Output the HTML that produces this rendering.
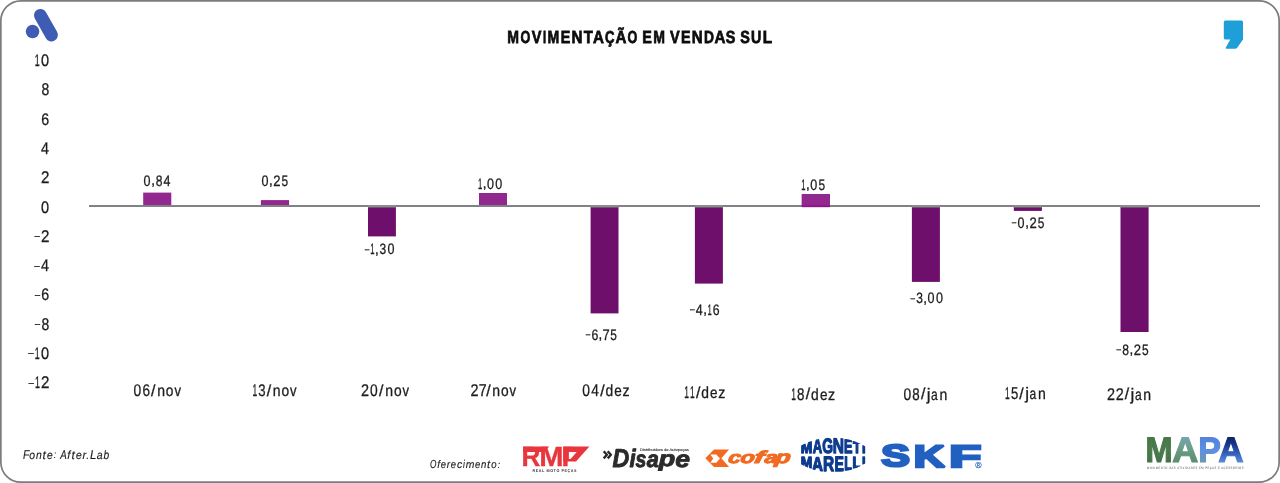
<!DOCTYPE html>
<html lang="pt-BR">
<head>
<meta charset="utf-8">
<title>Movimentação em Vendas Sul</title>
<style>
html,body{margin:0;padding:0;background:#fff;}
body{width:1280px;height:483px;overflow:hidden;position:relative;font-family:"Liberation Sans", sans-serif;}
svg{display:block;position:absolute;left:0;top:0;}
svg text{font-family:"Liberation Sans", sans-serif;white-space:pre;text-rendering:geometricPrecision;}
</style>
</head>
<body>
<svg width="1280" height="483" viewBox="0 0 1280 483">
<rect x="0.85" y="0.85" width="1278.3" height="481.3" rx="20" ry="20" fill="#fff" stroke="#7b7c80" stroke-width="1.7"/>
<g fill="#3f5cb5" stroke="none"><circle cx="32.55" cy="31.4" r="6.75"/><line x1="40.4" y1="15.3" x2="51.5" y2="35.0" stroke="#3f5cb5" stroke-width="12.8" stroke-linecap="round"/></g>
<path fill="#1e9fd8" d="M1225.5,20.5 H1241.5 Q1243,20.5 1243,22 V39.5 L1237,48 Q1236.3,48.8 1235.3,48.8 H1226.5 Q1225,48.8 1225.8,47.5 L1230.3,39.6 H1225.5 Q1223.8,39.6 1223.8,38 V22 Q1223.8,20.5 1225.5,20.5 Z"/>
<text font-weight="bold" fill="#0d0d0d" stroke="#0d0d0d" stroke-width="0.75"><tspan x="507.36" y="43.48" font-size="17.55" textLength="11.70" lengthAdjust="spacingAndGlyphs">M</tspan><tspan x="520.53" y="43.49" font-size="17.52" textLength="9.83" lengthAdjust="spacingAndGlyphs">O</tspan><tspan x="531.67" y="43.48" font-size="17.55" textLength="9.67" lengthAdjust="spacingAndGlyphs">V</tspan><tspan x="542.91" y="43.48" font-size="17.55" textLength="3.16" lengthAdjust="spacingAndGlyphs">I</tspan><tspan x="547.58" y="43.48" font-size="17.55" textLength="11.70" lengthAdjust="spacingAndGlyphs">M</tspan><tspan x="560.67" y="43.48" font-size="17.55" textLength="9.59" lengthAdjust="spacingAndGlyphs">E</tspan><tspan x="571.47" y="43.48" font-size="17.55" textLength="10.97" lengthAdjust="spacingAndGlyphs">N</tspan><tspan x="583.85" y="43.48" font-size="17.55" textLength="9.05" lengthAdjust="spacingAndGlyphs">T</tspan><tspan x="593.07" y="43.48" font-size="17.55" textLength="10.90" lengthAdjust="spacingAndGlyphs">A</tspan><tspan x="604.88" y="43.30" font-size="17.25" textLength="9.50" lengthAdjust="spacingAndGlyphs">Ç</tspan><tspan x="615.57" y="43.48" font-size="17.53" textLength="10.90" lengthAdjust="spacingAndGlyphs">Ã</tspan><tspan x="627.38" y="43.49" font-size="17.52" textLength="9.83" lengthAdjust="spacingAndGlyphs">O</tspan> <tspan x="642.33" y="43.48" font-size="17.55" textLength="9.59" lengthAdjust="spacingAndGlyphs">E</tspan><tspan x="653.19" y="43.48" font-size="17.55" textLength="11.70" lengthAdjust="spacingAndGlyphs">M</tspan> <tspan x="670.01" y="43.48" font-size="17.55" textLength="9.67" lengthAdjust="spacingAndGlyphs">V</tspan><tspan x="680.94" y="43.48" font-size="17.55" textLength="9.59" lengthAdjust="spacingAndGlyphs">E</tspan><tspan x="691.75" y="43.48" font-size="17.55" textLength="10.97" lengthAdjust="spacingAndGlyphs">N</tspan><tspan x="703.90" y="43.48" font-size="17.55" textLength="9.96" lengthAdjust="spacingAndGlyphs">D</tspan><tspan x="714.41" y="43.48" font-size="17.55" textLength="10.90" lengthAdjust="spacingAndGlyphs">A</tspan><tspan x="725.69" y="43.45" font-size="17.47" textLength="9.61" lengthAdjust="spacingAndGlyphs">S</tspan> <tspan x="740.18" y="43.45" font-size="17.47" textLength="9.61" lengthAdjust="spacingAndGlyphs">S</tspan><tspan x="751.02" y="43.45" font-size="17.51" textLength="10.31" lengthAdjust="spacingAndGlyphs">U</tspan><tspan x="762.63" y="43.48" font-size="17.55" textLength="9.42" lengthAdjust="spacingAndGlyphs">L</tspan></text>
<text fill="#1d1d1d" stroke="#1d1d1d" stroke-width="0.3"><tspan x="34.79" y="66.10" font-size="16.86" textLength="4.93" lengthAdjust="spacingAndGlyphs">1</tspan><tspan x="41.12" y="66.11" font-size="16.84" textLength="8.07" lengthAdjust="spacingAndGlyphs">0</tspan></text>
<text fill="#1d1d1d" stroke="#1d1d1d" stroke-width="0.3"><tspan x="41.45" y="95.36" font-size="16.82" textLength="7.78" lengthAdjust="spacingAndGlyphs">8</tspan></text>
<text fill="#1d1d1d" stroke="#1d1d1d" stroke-width="0.3"><tspan x="41.36" y="124.64" font-size="16.74" textLength="7.89" lengthAdjust="spacingAndGlyphs">6</tspan></text>
<text fill="#1d1d1d" stroke="#1d1d1d" stroke-width="0.3"><tspan x="41.05" y="153.97" font-size="16.86" textLength="7.99" lengthAdjust="spacingAndGlyphs">4</tspan></text>
<text fill="#1d1d1d" stroke="#1d1d1d" stroke-width="0.3"><tspan x="40.97" y="183.26" font-size="16.81" textLength="8.41" lengthAdjust="spacingAndGlyphs">2</tspan></text>
<text fill="#1d1d1d" stroke="#1d1d1d" stroke-width="0.3"><tspan x="41.12" y="212.56" font-size="16.84" textLength="8.07" lengthAdjust="spacingAndGlyphs">0</tspan></text>
<text fill="#1d1d1d" stroke="#1d1d1d" stroke-width="0.3"><tspan x="34.03" y="239.27" font-size="9.65" textLength="6.50" lengthAdjust="spacingAndGlyphs">-</tspan><tspan x="40.97" y="241.84" font-size="16.81" textLength="8.41" lengthAdjust="spacingAndGlyphs">2</tspan></text>
<text fill="#1d1d1d" stroke="#1d1d1d" stroke-width="0.3"><tspan x="33.82" y="268.56" font-size="9.65" textLength="6.50" lengthAdjust="spacingAndGlyphs">-</tspan><tspan x="41.05" y="271.13" font-size="16.86" textLength="7.99" lengthAdjust="spacingAndGlyphs">4</tspan></text>
<text fill="#1d1d1d" stroke="#1d1d1d" stroke-width="0.3"><tspan x="34.25" y="297.85" font-size="9.65" textLength="6.50" lengthAdjust="spacingAndGlyphs">-</tspan><tspan x="41.36" y="300.38" font-size="16.74" textLength="7.89" lengthAdjust="spacingAndGlyphs">6</tspan></text>
<text fill="#1d1d1d" stroke="#1d1d1d" stroke-width="0.3"><tspan x="34.33" y="327.14" font-size="9.65" textLength="6.50" lengthAdjust="spacingAndGlyphs">-</tspan><tspan x="41.45" y="329.68" font-size="16.82" textLength="7.78" lengthAdjust="spacingAndGlyphs">8</tspan></text>
<text fill="#1d1d1d" stroke="#1d1d1d" stroke-width="0.3"><tspan x="27.80" y="356.43" font-size="9.65" textLength="6.50" lengthAdjust="spacingAndGlyphs">-</tspan><tspan x="34.79" y="359.00" font-size="16.86" textLength="4.93" lengthAdjust="spacingAndGlyphs">1</tspan><tspan x="41.12" y="359.01" font-size="16.84" textLength="8.07" lengthAdjust="spacingAndGlyphs">0</tspan></text>
<text fill="#1d1d1d" stroke="#1d1d1d" stroke-width="0.3"><tspan x="28.08" y="385.72" font-size="9.65" textLength="6.50" lengthAdjust="spacingAndGlyphs">-</tspan><tspan x="35.06" y="388.29" font-size="16.86" textLength="4.93" lengthAdjust="spacingAndGlyphs">1</tspan><tspan x="40.97" y="388.29" font-size="16.81" textLength="8.41" lengthAdjust="spacingAndGlyphs">2</tspan></text>
<rect x="143.2" y="192.6" width="28.10" height="13.40" fill="#92278f"/>
<rect x="260.9" y="200.1" width="28.20" height="5.90" fill="#92278f"/>
<rect x="368" y="206" width="27.90" height="30.40" fill="#6d0f6b"/>
<rect x="479" y="193" width="28.00" height="13.00" fill="#92278f"/>
<rect x="590.6" y="206" width="27.90" height="107.40" fill="#6d0f6b"/>
<rect x="694.9" y="206" width="28.00" height="77.60" fill="#6d0f6b"/>
<rect x="801.8" y="194.1" width="28.20" height="12.90" fill="#92278f"/>
<rect x="911.9" y="206" width="28.00" height="75.90" fill="#6d0f6b"/>
<rect x="1013.8" y="207" width="28.10" height="3.90" fill="#6d0f6b"/>
<rect x="1120.5" y="206" width="28.10" height="126.00" fill="#6d0f6b"/>
<line x1="89" y1="206" x2="1260" y2="206" stroke="#808285" stroke-width="2"/>
<rect x="801.8" y="194.1" width="28.2" height="13" fill="#92278f"/><rect x="801.8" y="205.3" width="28.2" height="1.8" fill="#8a1786"/>
<rect x="368" y="205" width="27.90" height="2.5" fill="#888e8c"/>
<rect x="590.6" y="205" width="27.90" height="2.5" fill="#888e8c"/>
<rect x="694.9" y="205" width="28.00" height="2.5" fill="#888e8c"/>
<rect x="911.9" y="205" width="28.00" height="2.5" fill="#888e8c"/>
<rect x="1013.8" y="205" width="28.10" height="2.5" fill="#888e8c"/>
<rect x="1120.5" y="205" width="28.10" height="2.5" fill="#888e8c"/>
<text fill="#1d1d1d" stroke="#1d1d1d" stroke-width="0.3"><tspan x="143.59" y="186.06" font-size="15.21" textLength="6.99" lengthAdjust="spacingAndGlyphs">0</tspan><tspan x="151.19" y="185.47" font-size="14.06" textLength="3.74" lengthAdjust="spacingAndGlyphs">,</tspan><tspan x="155.64" y="186.02" font-size="15.19" textLength="6.75" lengthAdjust="spacingAndGlyphs">8</tspan><tspan x="163.45" y="186.05" font-size="15.22" textLength="6.93" lengthAdjust="spacingAndGlyphs">4</tspan></text>
<text fill="#1d1d1d" stroke="#1d1d1d" stroke-width="0.3"><tspan x="261.47" y="186.06" font-size="15.21" textLength="6.99" lengthAdjust="spacingAndGlyphs">0</tspan><tspan x="269.07" y="185.47" font-size="14.06" textLength="3.74" lengthAdjust="spacingAndGlyphs">,</tspan><tspan x="273.37" y="186.05" font-size="15.18" textLength="7.29" lengthAdjust="spacingAndGlyphs">2</tspan><tspan x="281.61" y="186.01" font-size="15.17" textLength="6.63" lengthAdjust="spacingAndGlyphs">5</tspan></text>
<text fill="#1d1d1d" stroke="#1d1d1d" stroke-width="0.3"><tspan x="364.32" y="251.79" font-size="8.38" textLength="5.56" lengthAdjust="spacingAndGlyphs">-</tspan><tspan x="370.36" y="254.20" font-size="15.22" textLength="4.27" lengthAdjust="spacingAndGlyphs">1</tspan><tspan x="375.12" y="253.62" font-size="14.06" textLength="3.74" lengthAdjust="spacingAndGlyphs">,</tspan><tspan x="379.51" y="254.18" font-size="14.97" textLength="6.66" lengthAdjust="spacingAndGlyphs">3</tspan><tspan x="387.41" y="254.21" font-size="15.21" textLength="6.99" lengthAdjust="spacingAndGlyphs">0</tspan></text>
<text fill="#1d1d1d" stroke="#1d1d1d" stroke-width="0.3"><tspan x="478.09" y="189.05" font-size="15.22" textLength="4.27" lengthAdjust="spacingAndGlyphs">1</tspan><tspan x="482.84" y="188.47" font-size="14.06" textLength="3.74" lengthAdjust="spacingAndGlyphs">,</tspan><tspan x="487.01" y="189.06" font-size="15.21" textLength="6.99" lengthAdjust="spacingAndGlyphs">0</tspan><tspan x="495.37" y="189.06" font-size="15.21" textLength="6.99" lengthAdjust="spacingAndGlyphs">0</tspan></text>
<text fill="#1d1d1d" stroke="#1d1d1d" stroke-width="0.3"><tspan x="585.33" y="337.29" font-size="8.38" textLength="5.56" lengthAdjust="spacingAndGlyphs">-</tspan><tspan x="591.49" y="339.66" font-size="15.12" textLength="6.84" lengthAdjust="spacingAndGlyphs">6</tspan><tspan x="598.57" y="339.12" font-size="14.06" textLength="3.74" lengthAdjust="spacingAndGlyphs">,</tspan><tspan x="602.55" y="339.70" font-size="15.22" textLength="7.20" lengthAdjust="spacingAndGlyphs">7</tspan><tspan x="610.17" y="339.66" font-size="15.17" textLength="6.63" lengthAdjust="spacingAndGlyphs">5</tspan></text>
<text fill="#1d1d1d" stroke="#1d1d1d" stroke-width="0.3"><tspan x="689.42" y="312.29" font-size="8.38" textLength="5.56" lengthAdjust="spacingAndGlyphs">-</tspan><tspan x="695.68" y="314.70" font-size="15.22" textLength="6.93" lengthAdjust="spacingAndGlyphs">4</tspan><tspan x="703.19" y="314.12" font-size="14.06" textLength="3.74" lengthAdjust="spacingAndGlyphs">,</tspan><tspan x="707.53" y="314.70" font-size="15.22" textLength="4.27" lengthAdjust="spacingAndGlyphs">1</tspan><tspan x="712.82" y="314.66" font-size="15.12" textLength="6.84" lengthAdjust="spacingAndGlyphs">6</tspan></text>
<text fill="#1d1d1d" stroke="#1d1d1d" stroke-width="0.3"><tspan x="801.31" y="189.95" font-size="15.22" textLength="4.27" lengthAdjust="spacingAndGlyphs">1</tspan><tspan x="806.07" y="189.37" font-size="14.06" textLength="3.74" lengthAdjust="spacingAndGlyphs">,</tspan><tspan x="810.23" y="189.96" font-size="15.21" textLength="6.99" lengthAdjust="spacingAndGlyphs">0</tspan><tspan x="818.53" y="189.91" font-size="15.17" textLength="6.63" lengthAdjust="spacingAndGlyphs">5</tspan></text>
<text fill="#1d1d1d" stroke="#1d1d1d" stroke-width="0.3"><tspan x="910.13" y="301.04" font-size="8.38" textLength="5.56" lengthAdjust="spacingAndGlyphs">-</tspan><tspan x="916.23" y="303.43" font-size="14.97" textLength="6.66" lengthAdjust="spacingAndGlyphs">3</tspan><tspan x="923.37" y="302.87" font-size="14.06" textLength="3.74" lengthAdjust="spacingAndGlyphs">,</tspan><tspan x="927.54" y="303.46" font-size="15.21" textLength="6.99" lengthAdjust="spacingAndGlyphs">0</tspan><tspan x="935.90" y="303.46" font-size="15.21" textLength="6.99" lengthAdjust="spacingAndGlyphs">0</tspan></text>
<text fill="#1d1d1d" stroke="#1d1d1d" stroke-width="0.3"><tspan x="1011.15" y="225.24" font-size="8.38" textLength="5.56" lengthAdjust="spacingAndGlyphs">-</tspan><tspan x="1017.53" y="227.66" font-size="15.21" textLength="6.99" lengthAdjust="spacingAndGlyphs">0</tspan><tspan x="1025.13" y="227.07" font-size="14.06" textLength="3.74" lengthAdjust="spacingAndGlyphs">,</tspan><tspan x="1029.43" y="227.65" font-size="15.18" textLength="7.29" lengthAdjust="spacingAndGlyphs">2</tspan><tspan x="1037.66" y="227.61" font-size="15.17" textLength="6.63" lengthAdjust="spacingAndGlyphs">5</tspan></text>
<text fill="#1d1d1d" stroke="#1d1d1d" stroke-width="0.3"><tspan x="1116.07" y="352.29" font-size="8.38" textLength="5.56" lengthAdjust="spacingAndGlyphs">-</tspan><tspan x="1122.23" y="354.67" font-size="15.19" textLength="6.75" lengthAdjust="spacingAndGlyphs">8</tspan><tspan x="1129.40" y="354.12" font-size="14.06" textLength="3.74" lengthAdjust="spacingAndGlyphs">,</tspan><tspan x="1133.70" y="354.70" font-size="15.18" textLength="7.29" lengthAdjust="spacingAndGlyphs">2</tspan><tspan x="1141.93" y="354.66" font-size="15.17" textLength="6.63" lengthAdjust="spacingAndGlyphs">5</tspan></text>
<text fill="#1d1d1d" stroke="#1d1d1d" stroke-width="0.3"><tspan x="133.61" y="395.76" font-size="17.01" textLength="7.69" lengthAdjust="spacingAndGlyphs">0</tspan><tspan x="142.52" y="395.70" font-size="16.92" textLength="7.52" lengthAdjust="spacingAndGlyphs">6</tspan><tspan x="151.05" y="395.59" font-size="15.96" textLength="4.43" lengthAdjust="spacingAndGlyphs">/</tspan><tspan x="157.16" y="395.75" font-size="15.81" textLength="7.82" lengthAdjust="spacingAndGlyphs">n</tspan><tspan x="165.85" y="395.73" font-size="15.81" textLength="7.67" lengthAdjust="spacingAndGlyphs">o</tspan><tspan x="174.38" y="395.75" font-size="15.88" textLength="6.51" lengthAdjust="spacingAndGlyphs">v</tspan></text>
<text fill="#1d1d1d" stroke="#1d1d1d" stroke-width="0.3"><tspan x="252.45" y="395.75" font-size="17.04" textLength="4.70" lengthAdjust="spacingAndGlyphs">1</tspan><tspan x="258.17" y="395.72" font-size="16.75" textLength="7.32" lengthAdjust="spacingAndGlyphs">3</tspan><tspan x="266.76" y="395.59" font-size="15.96" textLength="4.43" lengthAdjust="spacingAndGlyphs">/</tspan><tspan x="272.87" y="395.75" font-size="15.81" textLength="7.82" lengthAdjust="spacingAndGlyphs">n</tspan><tspan x="281.56" y="395.73" font-size="15.81" textLength="7.67" lengthAdjust="spacingAndGlyphs">o</tspan><tspan x="290.09" y="395.75" font-size="15.88" textLength="6.51" lengthAdjust="spacingAndGlyphs">v</tspan></text>
<text fill="#1d1d1d" stroke="#1d1d1d" stroke-width="0.3"><tspan x="360.90" y="395.75" font-size="16.98" textLength="8.02" lengthAdjust="spacingAndGlyphs">2</tspan><tspan x="369.99" y="395.76" font-size="17.01" textLength="7.69" lengthAdjust="spacingAndGlyphs">0</tspan><tspan x="379.08" y="395.59" font-size="15.96" textLength="4.43" lengthAdjust="spacingAndGlyphs">/</tspan><tspan x="385.19" y="395.75" font-size="15.81" textLength="7.82" lengthAdjust="spacingAndGlyphs">n</tspan><tspan x="393.88" y="395.73" font-size="15.81" textLength="7.67" lengthAdjust="spacingAndGlyphs">o</tspan><tspan x="402.41" y="395.75" font-size="15.88" textLength="6.51" lengthAdjust="spacingAndGlyphs">v</tspan></text>
<text fill="#1d1d1d" stroke="#1d1d1d" stroke-width="0.3"><tspan x="470.42" y="395.75" font-size="16.98" textLength="8.02" lengthAdjust="spacingAndGlyphs">2</tspan><tspan x="478.76" y="395.75" font-size="17.04" textLength="7.92" lengthAdjust="spacingAndGlyphs">7</tspan><tspan x="486.16" y="395.59" font-size="15.96" textLength="4.43" lengthAdjust="spacingAndGlyphs">/</tspan><tspan x="492.27" y="395.75" font-size="15.81" textLength="7.82" lengthAdjust="spacingAndGlyphs">n</tspan><tspan x="500.96" y="395.73" font-size="15.81" textLength="7.67" lengthAdjust="spacingAndGlyphs">o</tspan><tspan x="509.49" y="395.75" font-size="15.88" textLength="6.51" lengthAdjust="spacingAndGlyphs">v</tspan></text>
<text fill="#1d1d1d" stroke="#1d1d1d" stroke-width="0.3"><tspan x="582.13" y="395.76" font-size="17.01" textLength="7.69" lengthAdjust="spacingAndGlyphs">0</tspan><tspan x="591.15" y="395.75" font-size="17.04" textLength="7.62" lengthAdjust="spacingAndGlyphs">4</tspan><tspan x="600.16" y="395.59" font-size="15.96" textLength="4.43" lengthAdjust="spacingAndGlyphs">/</tspan><tspan x="605.49" y="395.73" font-size="16.15" textLength="7.70" lengthAdjust="spacingAndGlyphs">d</tspan><tspan x="614.34" y="395.75" font-size="15.85" textLength="7.51" lengthAdjust="spacingAndGlyphs">e</tspan><tspan x="622.48" y="395.75" font-size="15.88" textLength="7.09" lengthAdjust="spacingAndGlyphs">z</tspan></text>
<text fill="#1d1d1d" stroke="#1d1d1d" stroke-width="0.3"><tspan x="684.20" y="398.35" font-size="17.04" textLength="4.70" lengthAdjust="spacingAndGlyphs">1</tspan><tspan x="689.92" y="398.35" font-size="17.04" textLength="4.70" lengthAdjust="spacingAndGlyphs">1</tspan><tspan x="695.89" y="398.19" font-size="15.96" textLength="4.43" lengthAdjust="spacingAndGlyphs">/</tspan><tspan x="701.23" y="398.33" font-size="16.15" textLength="7.70" lengthAdjust="spacingAndGlyphs">d</tspan><tspan x="710.08" y="398.35" font-size="15.85" textLength="7.51" lengthAdjust="spacingAndGlyphs">e</tspan><tspan x="718.22" y="398.35" font-size="15.88" textLength="7.09" lengthAdjust="spacingAndGlyphs">z</tspan></text>
<text fill="#1d1d1d" stroke="#1d1d1d" stroke-width="0.3"><tspan x="791.29" y="399.65" font-size="17.04" textLength="4.70" lengthAdjust="spacingAndGlyphs">1</tspan><tspan x="797.08" y="399.62" font-size="16.99" textLength="7.42" lengthAdjust="spacingAndGlyphs">8</tspan><tspan x="805.70" y="399.49" font-size="15.96" textLength="4.43" lengthAdjust="spacingAndGlyphs">/</tspan><tspan x="811.04" y="399.63" font-size="16.15" textLength="7.70" lengthAdjust="spacingAndGlyphs">d</tspan><tspan x="819.89" y="399.65" font-size="15.85" textLength="7.51" lengthAdjust="spacingAndGlyphs">e</tspan><tspan x="828.03" y="399.65" font-size="15.88" textLength="7.09" lengthAdjust="spacingAndGlyphs">z</tspan></text>
<text fill="#1d1d1d" stroke="#1d1d1d" stroke-width="0.3"><tspan x="903.38" y="399.66" font-size="17.01" textLength="7.69" lengthAdjust="spacingAndGlyphs">0</tspan><tspan x="912.29" y="399.62" font-size="16.99" textLength="7.42" lengthAdjust="spacingAndGlyphs">8</tspan><tspan x="920.92" y="399.49" font-size="15.96" textLength="4.43" lengthAdjust="spacingAndGlyphs">/</tspan><tspan x="926.73" y="399.78" font-size="16.59" textLength="3.81" lengthAdjust="spacingAndGlyphs">j</tspan><tspan x="931.04" y="399.63" font-size="15.81" textLength="6.72" lengthAdjust="spacingAndGlyphs">a</tspan><tspan x="939.46" y="399.65" font-size="15.81" textLength="7.82" lengthAdjust="spacingAndGlyphs">n</tspan></text>
<text fill="#1d1d1d" stroke="#1d1d1d" stroke-width="0.3"><tspan x="1005.07" y="399.15" font-size="17.04" textLength="4.70" lengthAdjust="spacingAndGlyphs">1</tspan><tspan x="1011.03" y="399.10" font-size="16.97" textLength="7.29" lengthAdjust="spacingAndGlyphs">5</tspan><tspan x="1019.37" y="398.99" font-size="15.96" textLength="4.43" lengthAdjust="spacingAndGlyphs">/</tspan><tspan x="1025.19" y="399.28" font-size="16.59" textLength="3.81" lengthAdjust="spacingAndGlyphs">j</tspan><tspan x="1029.49" y="399.13" font-size="15.81" textLength="6.72" lengthAdjust="spacingAndGlyphs">a</tspan><tspan x="1037.92" y="399.15" font-size="15.81" textLength="7.82" lengthAdjust="spacingAndGlyphs">n</tspan></text>
<text fill="#1d1d1d" stroke="#1d1d1d" stroke-width="0.3"><tspan x="1107.10" y="399.65" font-size="16.98" textLength="8.02" lengthAdjust="spacingAndGlyphs">2</tspan><tspan x="1115.78" y="399.65" font-size="16.98" textLength="8.02" lengthAdjust="spacingAndGlyphs">2</tspan><tspan x="1124.81" y="399.49" font-size="15.96" textLength="4.43" lengthAdjust="spacingAndGlyphs">/</tspan><tspan x="1130.63" y="399.78" font-size="16.59" textLength="3.81" lengthAdjust="spacingAndGlyphs">j</tspan><tspan x="1134.94" y="399.63" font-size="15.81" textLength="6.72" lengthAdjust="spacingAndGlyphs">a</tspan><tspan x="1143.36" y="399.65" font-size="15.81" textLength="7.82" lengthAdjust="spacingAndGlyphs">n</tspan></text>
<text font-style="italic" fill="#1d1d1d" stroke="#1d1d1d" stroke-width="0.15"><tspan x="22.99" y="458.62" font-size="12.61" textLength="6.30" lengthAdjust="spacingAndGlyphs">F</tspan><tspan x="29.36" y="458.61" font-size="11.75" textLength="5.78" lengthAdjust="spacingAndGlyphs">o</tspan><tspan x="36.08" y="458.62" font-size="11.75" textLength="5.76" lengthAdjust="spacingAndGlyphs">n</tspan><tspan x="42.47" y="458.52" font-size="12.01" textLength="3.35" lengthAdjust="spacingAndGlyphs">t</tspan><tspan x="46.89" y="458.62" font-size="11.76" textLength="5.73" lengthAdjust="spacingAndGlyphs">e</tspan><tspan x="53.77" y="458.46" font-size="10.43" textLength="2.49" lengthAdjust="spacingAndGlyphs">:</tspan> <tspan x="60.15" y="458.62" font-size="12.61" textLength="6.49" lengthAdjust="spacingAndGlyphs">A</tspan><tspan x="67.26" y="458.62" font-size="11.97" textLength="3.07" lengthAdjust="spacingAndGlyphs">f</tspan><tspan x="71.49" y="458.52" font-size="12.01" textLength="3.35" lengthAdjust="spacingAndGlyphs">t</tspan><tspan x="75.91" y="458.62" font-size="11.76" textLength="5.73" lengthAdjust="spacingAndGlyphs">e</tspan><tspan x="82.47" y="458.62" font-size="11.70" textLength="3.69" lengthAdjust="spacingAndGlyphs">r</tspan><tspan x="86.34" y="458.60" font-size="11.80" textLength="2.99" lengthAdjust="spacingAndGlyphs">.</tspan><tspan x="89.89" y="458.62" font-size="12.61" textLength="6.46" lengthAdjust="spacingAndGlyphs">L</tspan><tspan x="96.86" y="458.61" font-size="11.74" textLength="5.86" lengthAdjust="spacingAndGlyphs">a</tspan><tspan x="103.56" y="458.61" font-size="11.95" textLength="5.69" lengthAdjust="spacingAndGlyphs">b</tspan></text>
<text font-style="italic" fill="#1d1d1d" stroke="#1d1d1d" stroke-width="0.15"><tspan x="430.11" y="468.06" font-size="11.63" textLength="6.40" lengthAdjust="spacingAndGlyphs">O</tspan><tspan x="437.20" y="468.07" font-size="11.10" textLength="2.84" lengthAdjust="spacingAndGlyphs">f</tspan><tspan x="440.72" y="468.07" font-size="10.90" textLength="5.31" lengthAdjust="spacingAndGlyphs">e</tspan><tspan x="446.81" y="468.07" font-size="10.84" textLength="3.41" lengthAdjust="spacingAndGlyphs">r</tspan><tspan x="450.85" y="468.07" font-size="10.90" textLength="5.31" lengthAdjust="spacingAndGlyphs">e</tspan><tspan x="456.88" y="468.06" font-size="10.88" textLength="5.17" lengthAdjust="spacingAndGlyphs">c</tspan><tspan x="462.98" y="468.06" font-size="11.25" textLength="1.84" lengthAdjust="spacingAndGlyphs">i</tspan><tspan x="465.74" y="468.07" font-size="10.89" textLength="8.67" lengthAdjust="spacingAndGlyphs">m</tspan><tspan x="475.01" y="468.07" font-size="10.90" textLength="5.31" lengthAdjust="spacingAndGlyphs">e</tspan><tspan x="481.11" y="468.07" font-size="10.89" textLength="5.33" lengthAdjust="spacingAndGlyphs">n</tspan><tspan x="487.04" y="467.98" font-size="11.14" textLength="3.10" lengthAdjust="spacingAndGlyphs">t</tspan><tspan x="491.14" y="468.06" font-size="10.89" textLength="5.36" lengthAdjust="spacingAndGlyphs">o</tspan><tspan x="497.67" y="467.92" font-size="9.67" textLength="2.30" lengthAdjust="spacingAndGlyphs">:</tspan></text>
<g id="rmp">
<text font-weight="bold" fill="#e9353c" stroke="#e9353c" stroke-width="0.3" stroke-linejoin="miter"><tspan x="521.49" y="465.55" font-size="27.62" textLength="18.90" lengthAdjust="spacingAndGlyphs">R</tspan><tspan x="539.21" y="465.55" font-size="27.62" textLength="24.28" lengthAdjust="spacingAndGlyphs">M</tspan><tspan x="561.57" y="465.55" font-size="27.62" textLength="18.73" lengthAdjust="spacingAndGlyphs">P</tspan></text>
<path fill="#e9353c" d="M523.1,446.4 H549.2 L544.2,452 H523.1 Z M563.3,446.4 H589.4 L576,461.4 H563.3 Z"/>
<path fill="#fff" d="M568.9,452 H576.7 L570.6,458.9 H568.9 Z"/>
<text transform="translate(532.57 471.90) scale(0.9326 1.0)" font-size="4.0" font-weight="bold" letter-spacing="0.6" fill="#3a3a3a">REAL MOTO PEÇAS</text>
</g>
<g id="disape">
<path fill="none" stroke="#2b2b2b" stroke-width="2.4" stroke-linejoin="round" d="M603.7,451.2 L606.9,454.8 L603.7,458.4 M607.7,451.2 L610.9,454.8 L607.7,458.4"/>
<text font-weight="bold" font-style="italic" fill="#2b2b2b" stroke="#2b2b2b" stroke-width="0.9" stroke-linejoin="round"><tspan x="612.39" y="466.55" font-size="26.02" textLength="16.76" lengthAdjust="spacingAndGlyphs">D</tspan><tspan x="629.42" y="466.55" font-size="25.25" textLength="6.20" lengthAdjust="spacingAndGlyphs">i</tspan><tspan x="635.46" y="466.62" font-size="23.43" textLength="10.84" lengthAdjust="spacingAndGlyphs">s</tspan><tspan x="646.71" y="466.62" font-size="23.36" textLength="12.11" lengthAdjust="spacingAndGlyphs">a</tspan><tspan x="658.74" y="465.89" font-size="22.00" textLength="16.47" lengthAdjust="spacingAndGlyphs">p</tspan><tspan x="675.30" y="466.62" font-size="23.36" textLength="14.73" lengthAdjust="spacingAndGlyphs">e</tspan></text>
<text transform="translate(639.86 450.80) scale(1.1412 1.0)" font-size="3.6" stroke="#3a3a3a" stroke-width="0.12" fill="#3a3a3a">Distribuidora de Autopeças</text>
</g>
<g id="cofap">
<path fill="#f26a21" d="M714,449.5 H729.1 L721.4,458.3 L729.1,467.1 H714 L705.3,458.3 Z"/>
<path fill="#fff" d="M710.4,454.5 H716.3 L720,458.4 L716.3,462.8 H710.4 L713.2,458.4 Z"/>
<text font-weight="bold" font-style="italic" fill="#f26a21" stroke="#f26a21" stroke-width="1.0" stroke-linejoin="round" transform="translate(-0.9 463.4) skewX(-10) translate(0 -463.4)"><tspan x="728.37" y="462.83" font-size="16.98" textLength="12.59" lengthAdjust="spacingAndGlyphs">c</tspan><tspan x="740.57" y="462.83" font-size="16.99" textLength="14.30" lengthAdjust="spacingAndGlyphs">o</tspan><tspan x="754.19" y="462.90" font-size="17.25" textLength="9.88" lengthAdjust="spacingAndGlyphs">f</tspan><tspan x="764.76" y="462.83" font-size="16.98" textLength="12.64" lengthAdjust="spacingAndGlyphs">a</tspan><tspan x="775.27" y="463.08" font-size="17.44" textLength="15.32" lengthAdjust="spacingAndGlyphs">p</tspan></text>
</g>
<g id="mm">
<clipPath id="mmclip"><path d="M788.5,454.9 A64,64 0 0 1 876.5,454.9 A64,64 0 0 1 788.5,454.9 Z"/></clipPath>
<g clip-path="url(#mmclip)">
<text font-weight="bold" fill="#0c3b8e" stroke="#0c3b8e" stroke-width="1.3" stroke-linejoin="round"><tspan x="800.82" y="453.25" font-size="16.47" textLength="11.56" lengthAdjust="spacingAndGlyphs">M</tspan><tspan x="812.70" y="453.25" font-size="20.15" textLength="9.43" lengthAdjust="spacingAndGlyphs">A</tspan><tspan x="822.27" y="453.05" font-size="20.76" textLength="10.76" lengthAdjust="spacingAndGlyphs">G</tspan><tspan x="832.73" y="453.25" font-size="21.36" textLength="11.24" lengthAdjust="spacingAndGlyphs">N</tspan><tspan x="843.97" y="453.25" font-size="19.74" textLength="8.51" lengthAdjust="spacingAndGlyphs">E</tspan><tspan x="852.96" y="453.25" font-size="16.66" textLength="7.97" lengthAdjust="spacingAndGlyphs">T</tspan><tspan x="862.24" y="453.25" font-size="10.67" textLength="3.03" lengthAdjust="spacingAndGlyphs">I</tspan></text>
<text font-weight="bold" fill="#0c3b8e" stroke="#0c3b8e" stroke-width="1.3" stroke-linejoin="round"><tspan x="800.84" y="467.88" font-size="16.03" textLength="11.53" lengthAdjust="spacingAndGlyphs">M</tspan><tspan x="812.12" y="470.57" font-size="19.94" textLength="10.99" lengthAdjust="spacingAndGlyphs">A</tspan><tspan x="823.04" y="471.25" font-size="20.93" textLength="11.19" lengthAdjust="spacingAndGlyphs">R</tspan><tspan x="834.40" y="471.20" font-size="20.87" textLength="9.42" lengthAdjust="spacingAndGlyphs">E</tspan><tspan x="844.18" y="470.10" font-size="19.25" textLength="7.78" lengthAdjust="spacingAndGlyphs">L</tspan><tspan x="852.44" y="467.95" font-size="16.13" textLength="8.23" lengthAdjust="spacingAndGlyphs">L</tspan><tspan x="862.26" y="463.89" font-size="10.23" textLength="2.97" lengthAdjust="spacingAndGlyphs">I</tspan></text>
</g></g>
<g id="skf">
<text font-weight="bold" fill="#2260c0" stroke="#2260c0" stroke-width="2.4" stroke-linejoin="miter" stroke-miterlimit="1.6"><tspan x="881.35" y="466.40" font-size="30.51" textLength="28.54" lengthAdjust="spacingAndGlyphs">S</tspan><tspan x="913.78" y="466.60" font-size="31.11" textLength="31.16" lengthAdjust="spacingAndGlyphs">K</tspan><tspan x="949.22" y="466.60" font-size="31.11" textLength="31.98" lengthAdjust="spacingAndGlyphs">F</tspan></text>
<text fill="#2260c0" stroke="#2260c0" stroke-width="0.15" stroke-linejoin="round"><tspan x="975.15" y="468.16" font-size="8.57" textLength="6.31" lengthAdjust="spacingAndGlyphs">®</tspan></text>
</g>
<g id="mapa">
<defs><linearGradient id="mg1" x1="0" y1="0" x2="0.25" y2="1"><stop offset="0" stop-color="#457547"/><stop offset="0.5" stop-color="#4a7b4d"/><stop offset="1" stop-color="#3d6b40"/></linearGradient><linearGradient id="mg2" x1="0.4" y1="0" x2="0.4" y2="1"><stop offset="0" stop-color="#7aa6cc"/><stop offset="0.4" stop-color="#6f9f90"/><stop offset="1" stop-color="#4f8558"/></linearGradient><linearGradient id="mg3" x1="0.78" y1="0" x2="0.55" y2="1"><stop offset="0" stop-color="#4a7cdc"/><stop offset="0.55" stop-color="#5f90e0"/><stop offset="0.8" stop-color="#6a9aa8"/><stop offset="1" stop-color="#5a9070"/></linearGradient><linearGradient id="mg4" x1="0.9" y1="0" x2="0.9" y2="1"><stop offset="0" stop-color="#0a1240"/><stop offset="0.35" stop-color="#17348a"/><stop offset="0.6" stop-color="#3563c0"/><stop offset="0.8" stop-color="#5a8ad8"/><stop offset="1" stop-color="#6c9ce4"/></linearGradient></defs>
<text font-weight="bold" fill="#3f6d3c" stroke="#3f6d3c" stroke-width="1.2" stroke-linejoin="miter"><tspan x="1145.48" y="462.20" font-size="35.47" textLength="27.05" lengthAdjust="spacingAndGlyphs" fill="url(#mg1)" stroke="url(#mg1)">M</tspan><tspan x="1172.31" y="462.20" font-size="35.47" textLength="26.03" lengthAdjust="spacingAndGlyphs" fill="url(#mg2)" stroke="url(#mg2)">A</tspan><tspan x="1198.20" y="462.20" font-size="35.47" textLength="22.69" lengthAdjust="spacingAndGlyphs" fill="url(#mg3)" stroke="url(#mg3)">P</tspan><tspan x="1218.32" y="462.20" font-size="35.47" textLength="25.41" lengthAdjust="spacingAndGlyphs" fill="url(#mg4)" stroke="url(#mg4)">A</tspan></text>
<text transform="translate(1147.04 469.00) scale(0.7950 1.0)" font-size="3.4" letter-spacing="0.6" fill="#4a4a4a">MOVIMENTO DAS ATIVIDADES EM PEÇAS E ACESSÓRIOS</text>
</g>
</svg>
</body>
</html>
